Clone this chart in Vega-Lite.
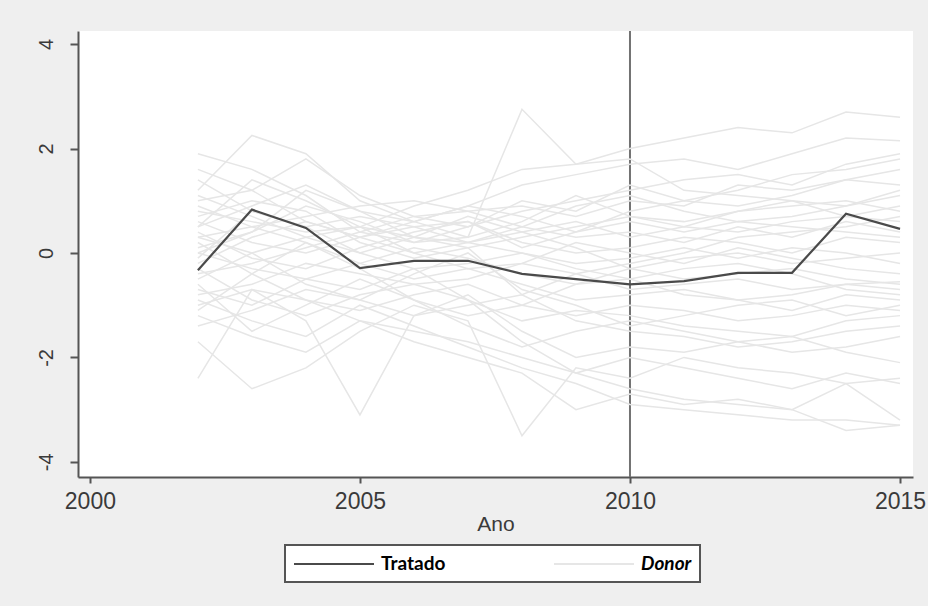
{
 "$schema": "https://vega.github.io/schema/vega-lite/v6.json",
 "width": 835,
 "height": 446,
 "autosize": {"type": "none"},
 "padding": {"left": 78, "top": 31, "right": 15, "bottom": 129},
 "background": "#efefef",
 "view": {"fill": "white", "stroke": null},
 "config": {"font": "Liberation Sans", "legend": {"strokeWidth": 2}},
 "datasets": {
  "ref": [{"year": 2010}],
  "series": [
   {"unit":"Tratado","year":2002,"value":-0.33},{"unit":"Tratado","year":2003,"value":0.83},{"unit":"Tratado","year":2004,"value":0.48},{"unit":"Tratado","year":2005,"value":-0.29},{"unit":"Tratado","year":2006,"value":-0.15},{"unit":"Tratado","year":2007,"value":-0.15},{"unit":"Tratado","year":2008,"value":-0.40},{"unit":"Tratado","year":2009,"value":-0.50},{"unit":"Tratado","year":2010,"value":-0.60},{"unit":"Tratado","year":2011,"value":-0.54},{"unit":"Tratado","year":2012,"value":-0.38},{"unit":"Tratado","year":2013,"value":-0.38},{"unit":"Tratado","year":2014,"value":0.75},{"unit":"Tratado","year":2015,"value":0.46},
   {"unit":"d1","year":2002,"value":0.8},{"unit":"d1","year":2003,"value":0.6},{"unit":"d1","year":2004,"value":0.4},{"unit":"d1","year":2005,"value":0.5},{"unit":"d1","year":2006,"value":0.9},{"unit":"d1","year":2007,"value":1.2},{"unit":"d1","year":2008,"value":1.6},{"unit":"d1","year":2009,"value":1.7},{"unit":"d1","year":2010,"value":2.0},{"unit":"d1","year":2011,"value":2.2},{"unit":"d1","year":2012,"value":2.4},{"unit":"d1","year":2013,"value":2.3},{"unit":"d1","year":2014,"value":2.7},{"unit":"d1","year":2015,"value":2.6},
   {"unit":"d2","year":2002,"value":0.5},{"unit":"d2","year":2003,"value":0.9},{"unit":"d2","year":2004,"value":1.3},{"unit":"d2","year":2005,"value":0.8},{"unit":"d2","year":2006,"value":0.6},{"unit":"d2","year":2007,"value":0.9},{"unit":"d2","year":2008,"value":1.3},{"unit":"d2","year":2009,"value":1.5},{"unit":"d2","year":2010,"value":1.7},{"unit":"d2","year":2011,"value":1.8},{"unit":"d2","year":2012,"value":1.6},{"unit":"d2","year":2013,"value":1.9},{"unit":"d2","year":2014,"value":2.2},{"unit":"d2","year":2015,"value":2.15},
   {"unit":"d3","year":2002,"value":1.9},{"unit":"d3","year":2003,"value":1.6},{"unit":"d3","year":2004,"value":1.1},{"unit":"d3","year":2005,"value":0.4},{"unit":"d3","year":2006,"value":0.2},{"unit":"d3","year":2007,"value":0.5},{"unit":"d3","year":2008,"value":0.8},{"unit":"d3","year":2009,"value":1.0},{"unit":"d3","year":2010,"value":1.2},{"unit":"d3","year":2011,"value":1.4},{"unit":"d3","year":2012,"value":1.5},{"unit":"d3","year":2013,"value":1.3},{"unit":"d3","year":2014,"value":1.7},{"unit":"d3","year":2015,"value":1.9},
   {"unit":"d4","year":2002,"value":1.2},{"unit":"d4","year":2003,"value":2.25},{"unit":"d4","year":2004,"value":1.9},{"unit":"d4","year":2005,"value":1.0},{"unit":"d4","year":2006,"value":0.6},{"unit":"d4","year":2007,"value":0.3},{"unit":"d4","year":2008,"value":2.75},{"unit":"d4","year":2009,"value":1.7},{"unit":"d4","year":2010,"value":1.8},{"unit":"d4","year":2011,"value":1.2},{"unit":"d4","year":2012,"value":1.1},{"unit":"d4","year":2013,"value":1.0},{"unit":"d4","year":2014,"value":0.9},{"unit":"d4","year":2015,"value":1.2},
   {"unit":"d5","year":2002,"value":1.0},{"unit":"d5","year":2003,"value":1.2},{"unit":"d5","year":2004,"value":1.8},{"unit":"d5","year":2005,"value":1.1},{"unit":"d5","year":2006,"value":0.7},{"unit":"d5","year":2007,"value":0.8},{"unit":"d5","year":2008,"value":0.9},{"unit":"d5","year":2009,"value":0.7},{"unit":"d5","year":2010,"value":1.0},{"unit":"d5","year":2011,"value":0.9},{"unit":"d5","year":2012,"value":1.3},{"unit":"d5","year":2013,"value":1.2},{"unit":"d5","year":2014,"value":1.4},{"unit":"d5","year":2015,"value":1.6},
   {"unit":"d6","year":2002,"value":0.3},{"unit":"d6","year":2003,"value":0.5},{"unit":"d6","year":2004,"value":0.7},{"unit":"d6","year":2005,"value":0.9},{"unit":"d6","year":2006,"value":1.0},{"unit":"d6","year":2007,"value":0.8},{"unit":"d6","year":2008,"value":0.5},{"unit":"d6","year":2009,"value":0.9},{"unit":"d6","year":2010,"value":1.1},{"unit":"d6","year":2011,"value":0.8},{"unit":"d6","year":2012,"value":0.6},{"unit":"d6","year":2013,"value":0.7},{"unit":"d6","year":2014,"value":0.9},{"unit":"d6","year":2015,"value":1.1},
   {"unit":"d7","year":2002,"value":0.6},{"unit":"d7","year":2003,"value":0.2},{"unit":"d7","year":2004,"value":0.0},{"unit":"d7","year":2005,"value":0.3},{"unit":"d7","year":2006,"value":0.6},{"unit":"d7","year":2007,"value":0.9},{"unit":"d7","year":2008,"value":0.7},{"unit":"d7","year":2009,"value":0.4},{"unit":"d7","year":2010,"value":0.8},{"unit":"d7","year":2011,"value":1.0},{"unit":"d7","year":2012,"value":0.9},{"unit":"d7","year":2013,"value":1.1},{"unit":"d7","year":2014,"value":1.4},{"unit":"d7","year":2015,"value":1.3},
   {"unit":"d8","year":2002,"value":0.1},{"unit":"d8","year":2003,"value":0.4},{"unit":"d8","year":2004,"value":0.9},{"unit":"d8","year":2005,"value":0.6},{"unit":"d8","year":2006,"value":0.2},{"unit":"d8","year":2007,"value":0.3},{"unit":"d8","year":2008,"value":0.6},{"unit":"d8","year":2009,"value":1.1},{"unit":"d8","year":2010,"value":0.7},{"unit":"d8","year":2011,"value":0.5},{"unit":"d8","year":2012,"value":0.8},{"unit":"d8","year":2013,"value":0.9},{"unit":"d8","year":2014,"value":1.0},{"unit":"d8","year":2015,"value":0.8},
   {"unit":"d9","year":2002,"value":1.4},{"unit":"d9","year":2003,"value":0.8},{"unit":"d9","year":2004,"value":0.5},{"unit":"d9","year":2005,"value":0.7},{"unit":"d9","year":2006,"value":0.5},{"unit":"d9","year":2007,"value":0.2},{"unit":"d9","year":2008,"value":0.4},{"unit":"d9","year":2009,"value":0.6},{"unit":"d9","year":2010,"value":0.3},{"unit":"d9","year":2011,"value":0.5},{"unit":"d9","year":2012,"value":0.4},{"unit":"d9","year":2013,"value":0.6},{"unit":"d9","year":2014,"value":0.7},{"unit":"d9","year":2015,"value":0.9},
   {"unit":"d10","year":2002,"value":-0.2},{"unit":"d10","year":2003,"value":0.3},{"unit":"d10","year":2004,"value":0.6},{"unit":"d10","year":2005,"value":0.3},{"unit":"d10","year":2006,"value":0.0},{"unit":"d10","year":2007,"value":0.2},{"unit":"d10","year":2008,"value":0.5},{"unit":"d10","year":2009,"value":0.3},{"unit":"d10","year":2010,"value":0.4},{"unit":"d10","year":2011,"value":0.2},{"unit":"d10","year":2012,"value":0.5},{"unit":"d10","year":2013,"value":0.3},{"unit":"d10","year":2014,"value":0.6},{"unit":"d10","year":2015,"value":0.4},
   {"unit":"d11","year":2002,"value":0.4},{"unit":"d11","year":2003,"value":-0.1},{"unit":"d11","year":2004,"value":-0.3},{"unit":"d11","year":2005,"value":0.1},{"unit":"d11","year":2006,"value":0.4},{"unit":"d11","year":2007,"value":0.6},{"unit":"d11","year":2008,"value":0.2},{"unit":"d11","year":2009,"value":0.0},{"unit":"d11","year":2010,"value":0.1},{"unit":"d11","year":2011,"value":0.3},{"unit":"d11","year":2012,"value":0.2},{"unit":"d11","year":2013,"value":0.0},{"unit":"d11","year":2014,"value":0.3},{"unit":"d11","year":2015,"value":0.2},
   {"unit":"d12","year":2002,"value":-0.5},{"unit":"d12","year":2003,"value":0.0},{"unit":"d12","year":2004,"value":0.3},{"unit":"d12","year":2005,"value":0.0},{"unit":"d12","year":2006,"value":-0.3},{"unit":"d12","year":2007,"value":-0.2},{"unit":"d12","year":2008,"value":0.0},{"unit":"d12","year":2009,"value":-0.2},{"unit":"d12","year":2010,"value":-0.1},{"unit":"d12","year":2011,"value":0.1},{"unit":"d12","year":2012,"value":-0.1},{"unit":"d12","year":2013,"value":0.1},{"unit":"d12","year":2014,"value":0.0},{"unit":"d12","year":2015,"value":-0.2},
   {"unit":"d13","year":2002,"value":0.0},{"unit":"d13","year":2003,"value":-0.3},{"unit":"d13","year":2004,"value":-0.5},{"unit":"d13","year":2005,"value":-0.2},{"unit":"d13","year":2006,"value":0.1},{"unit":"d13","year":2007,"value":-0.1},{"unit":"d13","year":2008,"value":-0.4},{"unit":"d13","year":2009,"value":-0.6},{"unit":"d13","year":2010,"value":-0.3},{"unit":"d13","year":2011,"value":-0.5},{"unit":"d13","year":2012,"value":-0.4},{"unit":"d13","year":2013,"value":-0.3},{"unit":"d13","year":2014,"value":-0.5},{"unit":"d13","year":2015,"value":-0.6},
   {"unit":"d14","year":2002,"value":-0.8},{"unit":"d14","year":2003,"value":-0.6},{"unit":"d14","year":2004,"value":-0.2},{"unit":"d14","year":2005,"value":-0.4},{"unit":"d14","year":2006,"value":-0.6},{"unit":"d14","year":2007,"value":-0.5},{"unit":"d14","year":2008,"value":-0.2},{"unit":"d14","year":2009,"value":-0.4},{"unit":"d14","year":2010,"value":-0.7},{"unit":"d14","year":2011,"value":-0.6},{"unit":"d14","year":2012,"value":-0.5},{"unit":"d14","year":2013,"value":-0.7},{"unit":"d14","year":2014,"value":-0.6},{"unit":"d14","year":2015,"value":-0.55},
   {"unit":"d15","year":2002,"value":0.9},{"unit":"d15","year":2003,"value":0.5},{"unit":"d15","year":2004,"value":0.2},{"unit":"d15","year":2005,"value":-0.2},{"unit":"d15","year":2006,"value":-0.5},{"unit":"d15","year":2007,"value":-0.3},{"unit":"d15","year":2008,"value":-0.6},{"unit":"d15","year":2009,"value":-0.9},{"unit":"d15","year":2010,"value":-0.8},{"unit":"d15","year":2011,"value":-0.7},{"unit":"d15","year":2012,"value":-0.9},{"unit":"d15","year":2013,"value":-0.8},{"unit":"d15","year":2014,"value":-0.6},{"unit":"d15","year":2015,"value":-0.7},
   {"unit":"d16","year":2002,"value":-1.0},{"unit":"d16","year":2003,"value":-0.7},{"unit":"d16","year":2004,"value":-0.9},{"unit":"d16","year":2005,"value":-1.1},{"unit":"d16","year":2006,"value":-0.8},{"unit":"d16","year":2007,"value":-0.6},{"unit":"d16","year":2008,"value":-1.0},{"unit":"d16","year":2009,"value":-1.2},{"unit":"d16","year":2010,"value":-1.0},{"unit":"d16","year":2011,"value":-1.1},{"unit":"d16","year":2012,"value":-1.3},{"unit":"d16","year":2013,"value":-1.2},{"unit":"d16","year":2014,"value":-1.0},{"unit":"d16","year":2015,"value":-1.1},
   {"unit":"d17","year":2002,"value":-0.3},{"unit":"d17","year":2003,"value":-0.9},{"unit":"d17","year":2004,"value":-1.2},{"unit":"d17","year":2005,"value":-0.8},{"unit":"d17","year":2006,"value":-0.6},{"unit":"d17","year":2007,"value":-0.9},{"unit":"d17","year":2008,"value":-1.3},{"unit":"d17","year":2009,"value":-1.1},{"unit":"d17","year":2010,"value":-1.2},{"unit":"d17","year":2011,"value":-1.4},{"unit":"d17","year":2012,"value":-1.5},{"unit":"d17","year":2013,"value":-1.6},{"unit":"d17","year":2014,"value":-1.3},{"unit":"d17","year":2015,"value":-1.2},
   {"unit":"d18","year":2002,"value":-1.4},{"unit":"d18","year":2003,"value":-1.1},{"unit":"d18","year":2004,"value":-0.7},{"unit":"d18","year":2005,"value":-0.9},{"unit":"d18","year":2006,"value":-1.2},{"unit":"d18","year":2007,"value":-1.0},{"unit":"d18","year":2008,"value":-0.8},{"unit":"d18","year":2009,"value":-1.3},{"unit":"d18","year":2010,"value":-1.5},{"unit":"d18","year":2011,"value":-1.6},{"unit":"d18","year":2012,"value":-1.8},{"unit":"d18","year":2013,"value":-1.7},{"unit":"d18","year":2014,"value":-1.5},{"unit":"d18","year":2015,"value":-1.4},
   {"unit":"d19","year":2002,"value":-0.6},{"unit":"d19","year":2003,"value":-1.5},{"unit":"d19","year":2004,"value":-1.0},{"unit":"d19","year":2005,"value":-0.5},{"unit":"d19","year":2006,"value":-0.9},{"unit":"d19","year":2007,"value":-1.4},{"unit":"d19","year":2008,"value":-1.8},{"unit":"d19","year":2009,"value":-1.5},{"unit":"d19","year":2010,"value":-1.3},{"unit":"d19","year":2011,"value":-1.5},{"unit":"d19","year":2012,"value":-1.7},{"unit":"d19","year":2013,"value":-1.9},{"unit":"d19","year":2014,"value":-1.8},{"unit":"d19","year":2015,"value":-1.6},
   {"unit":"d20","year":2002,"value":-2.4},{"unit":"d20","year":2003,"value":-0.7},{"unit":"d20","year":2004,"value":-1.3},{"unit":"d20","year":2005,"value":-3.1},{"unit":"d20","year":2006,"value":-1.2},{"unit":"d20","year":2007,"value":-0.8},{"unit":"d20","year":2008,"value":-1.5},{"unit":"d20","year":2009,"value":-2.0},{"unit":"d20","year":2010,"value":-1.8},{"unit":"d20","year":2011,"value":-1.9},{"unit":"d20","year":2012,"value":-1.7},{"unit":"d20","year":2013,"value":-1.6},{"unit":"d20","year":2014,"value":-1.9},{"unit":"d20","year":2015,"value":-2.1},
   {"unit":"d21","year":2002,"value":-1.7},{"unit":"d21","year":2003,"value":-2.6},{"unit":"d21","year":2004,"value":-2.2},{"unit":"d21","year":2005,"value":-1.5},{"unit":"d21","year":2006,"value":-1.0},{"unit":"d21","year":2007,"value":-1.3},{"unit":"d21","year":2008,"value":-3.5},{"unit":"d21","year":2009,"value":-2.2},{"unit":"d21","year":2010,"value":-2.4},{"unit":"d21","year":2011,"value":-2.0},{"unit":"d21","year":2012,"value":-2.2},{"unit":"d21","year":2013,"value":-2.3},{"unit":"d21","year":2014,"value":-2.5},{"unit":"d21","year":2015,"value":-2.4},
   {"unit":"d22","year":2002,"value":-1.2},{"unit":"d22","year":2003,"value":-1.6},{"unit":"d22","year":2004,"value":-1.9},{"unit":"d22","year":2005,"value":-1.3},{"unit":"d22","year":2006,"value":-1.7},{"unit":"d22","year":2007,"value":-2.0},{"unit":"d22","year":2008,"value":-2.3},{"unit":"d22","year":2009,"value":-3.0},{"unit":"d22","year":2010,"value":-2.7},{"unit":"d22","year":2011,"value":-2.9},{"unit":"d22","year":2012,"value":-2.8},{"unit":"d22","year":2013,"value":-3.0},{"unit":"d22","year":2014,"value":-3.4},{"unit":"d22","year":2015,"value":-3.3},
   {"unit":"d23","year":2002,"value":0.2},{"unit":"d23","year":2003,"value":-0.4},{"unit":"d23","year":2004,"value":-0.9},{"unit":"d23","year":2005,"value":-1.3},{"unit":"d23","year":2006,"value":-1.5},{"unit":"d23","year":2007,"value":-1.7},{"unit":"d23","year":2008,"value":-2.0},{"unit":"d23","year":2009,"value":-2.3},{"unit":"d23","year":2010,"value":-2.6},{"unit":"d23","year":2011,"value":-2.8},{"unit":"d23","year":2012,"value":-2.9},{"unit":"d23","year":2013,"value":-3.0},{"unit":"d23","year":2014,"value":-2.5},{"unit":"d23","year":2015,"value":-3.2},
   {"unit":"d24","year":2002,"value":-0.9},{"unit":"d24","year":2003,"value":-1.3},{"unit":"d24","year":2004,"value":-1.6},{"unit":"d24","year":2005,"value":-1.0},{"unit":"d24","year":2006,"value":-1.4},{"unit":"d24","year":2007,"value":-1.8},{"unit":"d24","year":2008,"value":-2.2},{"unit":"d24","year":2009,"value":-2.5},{"unit":"d24","year":2010,"value":-2.9},{"unit":"d24","year":2011,"value":-3.0},{"unit":"d24","year":2012,"value":-3.1},{"unit":"d24","year":2013,"value":-3.2},{"unit":"d24","year":2014,"value":-3.2},{"unit":"d24","year":2015,"value":-3.3},
   {"unit":"d25","year":2002,"value":1.1},{"unit":"d25","year":2003,"value":0.7},{"unit":"d25","year":2004,"value":0.3},{"unit":"d25","year":2005,"value":0.5},{"unit":"d25","year":2006,"value":0.0},{"unit":"d25","year":2007,"value":-0.3},{"unit":"d25","year":2008,"value":-0.2},{"unit":"d25","year":2009,"value":0.2},{"unit":"d25","year":2010,"value":0.0},{"unit":"d25","year":2011,"value":-0.2},{"unit":"d25","year":2012,"value":0.1},{"unit":"d25","year":2013,"value":-0.1},{"unit":"d25","year":2014,"value":-0.3},{"unit":"d25","year":2015,"value":-0.4},
   {"unit":"d26","year":2002,"value":0.7},{"unit":"d26","year":2003,"value":1.0},{"unit":"d26","year":2004,"value":0.8},{"unit":"d26","year":2005,"value":0.2},{"unit":"d26","year":2006,"value":-0.1},{"unit":"d26","year":2007,"value":0.1},{"unit":"d26","year":2008,"value":0.3},{"unit":"d26","year":2009,"value":0.5},{"unit":"d26","year":2010,"value":0.7},{"unit":"d26","year":2011,"value":0.6},{"unit":"d26","year":2012,"value":0.8},{"unit":"d26","year":2013,"value":1.0},{"unit":"d26","year":2014,"value":0.7},{"unit":"d26","year":2015,"value":0.6},
   {"unit":"d27","year":2002,"value":-0.1},{"unit":"d27","year":2003,"value":0.8},{"unit":"d27","year":2004,"value":0.5},{"unit":"d27","year":2005,"value":0.0},{"unit":"d27","year":2006,"value":0.3},{"unit":"d27","year":2007,"value":0.7},{"unit":"d27","year":2008,"value":0.4},{"unit":"d27","year":2009,"value":0.1},{"unit":"d27","year":2010,"value":-0.3},{"unit":"d27","year":2011,"value":-0.1},{"unit":"d27","year":2012,"value":0.0},{"unit":"d27","year":2013,"value":-0.2},{"unit":"d27","year":2014,"value":-0.1},{"unit":"d27","year":2015,"value":0.0},
   {"unit":"d28","year":2002,"value":0.5},{"unit":"d28","year":2003,"value":1.4},{"unit":"d28","year":2004,"value":1.0},{"unit":"d28","year":2005,"value":0.5},{"unit":"d28","year":2006,"value":0.3},{"unit":"d28","year":2007,"value":0.2},{"unit":"d28","year":2008,"value":0.0},{"unit":"d28","year":2009,"value":-0.3},{"unit":"d28","year":2010,"value":-0.5},{"unit":"d28","year":2011,"value":-0.3},{"unit":"d28","year":2012,"value":-0.2},{"unit":"d28","year":2013,"value":-0.4},{"unit":"d28","year":2014,"value":-0.7},{"unit":"d28","year":2015,"value":-0.8},
   {"unit":"d29","year":2002,"value":-0.4},{"unit":"d29","year":2003,"value":-0.2},{"unit":"d29","year":2004,"value":0.1},{"unit":"d29","year":2005,"value":0.4},{"unit":"d29","year":2006,"value":0.7},{"unit":"d29","year":2007,"value":0.5},{"unit":"d29","year":2008,"value":1.0},{"unit":"d29","year":2009,"value":0.8},{"unit":"d29","year":2010,"value":1.3},{"unit":"d29","year":2011,"value":1.0},{"unit":"d29","year":2012,"value":1.2},{"unit":"d29","year":2013,"value":1.5},{"unit":"d29","year":2014,"value":1.6},{"unit":"d29","year":2015,"value":1.8},
   {"unit":"d30","year":2002,"value":0.3},{"unit":"d30","year":2003,"value":0.0},{"unit":"d30","year":2004,"value":-0.6},{"unit":"d30","year":2005,"value":-0.9},{"unit":"d30","year":2006,"value":-0.4},{"unit":"d30","year":2007,"value":0.0},{"unit":"d30","year":2008,"value":-0.7},{"unit":"d30","year":2009,"value":-1.0},{"unit":"d30","year":2010,"value":-1.4},{"unit":"d30","year":2011,"value":-1.2},{"unit":"d30","year":2012,"value":-1.0},{"unit":"d30","year":2013,"value":-0.9},{"unit":"d30","year":2014,"value":-1.2},{"unit":"d30","year":2015,"value":-1.0},
   {"unit":"d31","year":2002,"value":-1.1},{"unit":"d31","year":2003,"value":-0.4},{"unit":"d31","year":2004,"value":0.2},{"unit":"d31","year":2005,"value":-0.3},{"unit":"d31","year":2006,"value":-0.9},{"unit":"d31","year":2007,"value":-1.2},{"unit":"d31","year":2008,"value":-1.0},{"unit":"d31","year":2009,"value":-0.6},{"unit":"d31","year":2010,"value":-0.5},{"unit":"d31","year":2011,"value":-0.8},{"unit":"d31","year":2012,"value":-0.9},{"unit":"d31","year":2013,"value":-1.1},{"unit":"d31","year":2014,"value":-0.8},{"unit":"d31","year":2015,"value":-0.9},
   {"unit":"d32","year":2002,"value":1.6},{"unit":"d32","year":2003,"value":1.2},{"unit":"d32","year":2004,"value":0.6},{"unit":"d32","year":2005,"value":0.3},{"unit":"d32","year":2006,"value":0.5},{"unit":"d32","year":2007,"value":0.6},{"unit":"d32","year":2008,"value":0.1},{"unit":"d32","year":2009,"value":0.4},{"unit":"d32","year":2010,"value":0.6},{"unit":"d32","year":2011,"value":0.4},{"unit":"d32","year":2012,"value":0.6},{"unit":"d32","year":2013,"value":0.5},{"unit":"d32","year":2014,"value":0.4},{"unit":"d32","year":2015,"value":0.3},
   {"unit":"d33","year":2002,"value":0.0},{"unit":"d33","year":2003,"value":0.4},{"unit":"d33","year":2004,"value":1.2},{"unit":"d33","year":2005,"value":0.8},{"unit":"d33","year":2006,"value":0.3},{"unit":"d33","year":2007,"value":0.1},{"unit":"d33","year":2008,"value":-0.8},{"unit":"d33","year":2009,"value":-0.4},{"unit":"d33","year":2010,"value":-0.2},{"unit":"d33","year":2011,"value":0.0},{"unit":"d33","year":2012,"value":0.3},{"unit":"d33","year":2013,"value":0.4},{"unit":"d33","year":2014,"value":0.5},{"unit":"d33","year":2015,"value":0.7},
   {"unit":"d34","year":2002,"value":-0.7},{"unit":"d34","year":2003,"value":-1.0},{"unit":"d34","year":2004,"value":-0.5},{"unit":"d34","year":2005,"value":-0.7},{"unit":"d34","year":2006,"value":-0.3},{"unit":"d34","year":2007,"value":-0.9},{"unit":"d34","year":2008,"value":-1.7},{"unit":"d34","year":2009,"value":-2.3},{"unit":"d34","year":2010,"value":-2.0},{"unit":"d34","year":2011,"value":-2.2},{"unit":"d34","year":2012,"value":-2.4},{"unit":"d34","year":2013,"value":-2.6},{"unit":"d34","year":2014,"value":-2.3},{"unit":"d34","year":2015,"value":-2.5}
  ]
 },
 "encoding": {
  "x": {
   "field": "year", "type": "quantitative",
   "scale": {"domain": [1999.78, 2015.24], "nice": false, "zero": false},
   "axis": {
    "values": [2000, 2005, 2010, 2015], "format": "d", "grid": false,
    "domainColor": "#555555", "domainWidth": 2, "tickColor": "#555555", "tickWidth": 2, "tickSize": 6,
    "labelFont": "Liberation Sans", "labelFontSize": 23, "labelColor": "#3a3a3a", "labelPadding": 7, "labelFlush": false,
    "title": "Ano", "titleFont": "Liberation Sans", "titleFontSize": 21, "titleFontWeight": "normal", "titleColor": "#3a3a3a", "titlePadding": 0
   }
  }
 },
 "layer": [
  {
   "data": {"name": "ref"},
   "mark": {"type": "rule", "color": "#727272", "strokeWidth": 2}
  },
  {
   "data": {"name": "series"},
   "transform": [{"filter": "datum.unit != 'Tratado'"}],
   "mark": {"type": "line", "strokeWidth": 1.5},
   "encoding": {
    "y": {
     "field": "value", "type": "quantitative",
     "scale": {"domain": [-4.29, 4.25], "nice": false, "zero": false},
     "axis": {
      "values": [-4, -2, 0, 2, 4], "grid": false, "title": null,
      "labelExpr": "'' + datum.value",
      "domainColor": "#555555", "domainWidth": 2, "tickColor": "#555555", "tickWidth": 2, "tickSize": 8,
      "labelAngle": -90, "labelAlign": "center", "labelBaseline": "bottom",
      "labelFont": "Liberation Sans", "labelFontSize": 20, "labelColor": "#3a3a3a", "labelPadding": 14, "labelFlush": false
     }
    },
    "detail": {"field": "unit"},
    "color": {
     "datum": "Donor",
     "scale": {"domain": ["Tratado", "Donor"], "range": ["#4a4a4a", "#e6e6e6"]},
     "legend": {
      "title": null, "orient": "none", "legendX": 207, "legendY": 514, "direction": "horizontal",
      "fillColor": "white", "strokeColor": "#555555", "padding": 8,
      "symbolType": "M-4,0H4", "symbolSize": 400, "symbolStrokeWidth": 2, "symbolOffset": 30,
      "labelFont": "Lato", "labelFontSize": 19, "labelFontWeight": "bold", "labelColor": "black",
      "labelFontStyle": {"expr": "datum.label == 'Donor' ? 'italic' : 'normal'"},
      "labelOffset": 36, "columnPadding": 104
     }
    }
   }
  },
  {
   "data": {"name": "series"},
   "transform": [{"filter": "datum.unit == 'Tratado'"}],
   "mark": {"type": "line", "strokeWidth": 2.2},
   "encoding": {
    "y": {"field": "value", "type": "quantitative"},
    "color": {"datum": "Tratado"}
   }
  }
 ]
}
